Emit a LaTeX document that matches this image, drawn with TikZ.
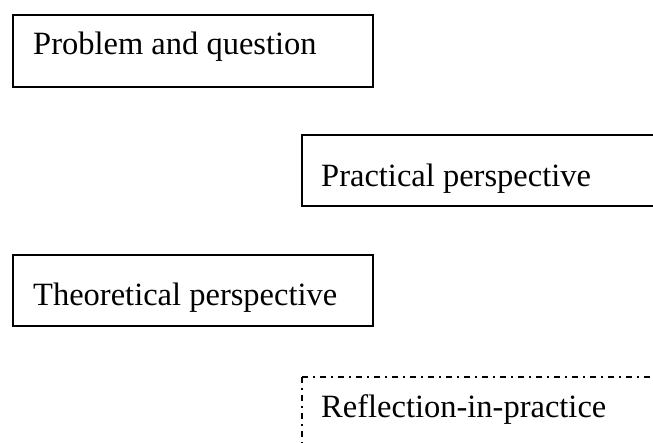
\documentclass[tikz,border=0pt]{standalone}
\usepackage{fontspec}
\setmainfont{Liberation Serif}
\begin{document}
\begin{tikzpicture}[x=1pt,y=-1pt,
  boxframe/.style={draw=black,line width=1.3pt},
  dashdotframe/.style={draw=black,line width=1.3pt,dash pattern=on 6pt off 5pt on 1.5pt off 5.5pt},
  lbl/.style={anchor=base west,inner sep=0pt,font=\fontsize{32.5}{39}\selectfont}]
\useasboundingbox[fill=white] (0,0) rectangle (653,443);
\path[boxframe] (13,15) rectangle (373,87);
\node[lbl] (t1) at (33,55) {Problem and question};
\path[boxframe] (302,135) rectangle (670,206);
\node[lbl] (t2) at (321,187) {Practical perspective};
\path[boxframe] (13,255) rectangle (373,326);
\node[lbl] (t3) at (33,306) {Theoretical perspective};
\coordinate (c4) at (302,377);
\path[dashdotframe] (c4) -- (302,460);
\path[dashdotframe] (c4) -- (670,377);
\node[lbl] (t4) at (321,417) {Reflection-in-practice};
\end{tikzpicture}
\end{document}
